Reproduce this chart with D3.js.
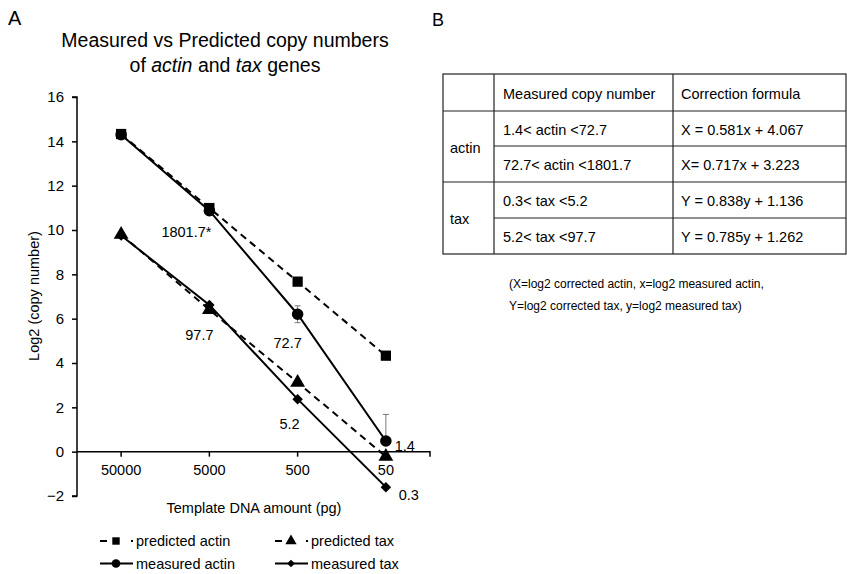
<!DOCTYPE html>
<html><head><meta charset="utf-8">
<script src="https://cdn.jsdelivr.net/npm/d3@7"></script>
<style>body{margin:0;background:#fff}svg{font-family:"Liberation Sans",Arial,sans-serif}</style>
</head><body><svg id="c" width="847" height="574"></svg>
<script>
const categories = ["50000","5000","500","50"];
const predictedActin = [14.33, 10.99, 7.67, 4.33];
const measuredActin  = [14.30, 10.87, 6.20, 0.48];
const measuredActinErr = [0, 0, 0.38, 1.2];
const predictedTax   = [9.80, 6.40, 3.12, -0.22];
const measuredTax    = [9.75, 6.62, 2.37, -1.60];
const yTicks = [-2,0,2,4,6,8,10,12,14,16];
const pointLabels = ["1801.7*","97.7","72.7","5.2","1.4","0.3"];
const tableHeader = ["", "Measured copy number", "Correction formula"];
const tableGenes = ["actin","tax"];
const tableRanges = ["1.4< actin <72.7","72.7< actin <1801.7","0.3< tax <5.2","5.2< tax <97.7"];
const tableFormulas = ["X = 0.581x + 4.067","X= 0.717x + 3.223","Y = 0.838y + 1.136","Y = 0.785y + 1.262"];
const footnote = ["(X=log2 corrected actin, x=log2 measured actin,","Y=log2 corrected tax, y=log2 measured tax)"];

const svg = d3.select("#c");
const x = d3.scaleBand().domain(categories).range([77,430]);
const cx = c => x(c) + x.bandwidth()/2;
const y = d3.scaleLinear().domain([-2,16]).range([496,97]);

// panel letters & title
svg.append("text").attr("x",8).attr("y",25).attr("font-size",20).text("A");
svg.append("text").attr("x",432).attr("y",26).attr("font-size",18).text("B");
const t1 = svg.append("text").attr("x",225).attr("y",47).attr("text-anchor","middle").attr("font-size",19.5);
t1.text("Measured vs Predicted copy numbers");
const t2 = svg.append("text").attr("x",225).attr("y",72).attr("text-anchor","middle").attr("font-size",19.5);
t2.append("tspan").text("of ");
t2.append("tspan").attr("font-style","italic").text("actin");
t2.append("tspan").text(" and ");
t2.append("tspan").attr("font-style","italic").text("tax");
t2.append("tspan").text(" genes");

// axes
const yAxis = d3.axisLeft(y).tickValues(yTicks).tickSize(5).tickPadding(8);
const gy = svg.append("g").attr("transform","translate(77,0)").call(yAxis);
gy.select(".domain").attr("d","M-5,"+y(16)+"H0V"+y(-2)+"H-5").attr("stroke","#000").attr("stroke-width",1.5);
gy.selectAll(".tick line").attr("stroke-width",1.5);
gy.selectAll("text").attr("font-size",15).attr("font-family","Liberation Sans, Arial, sans-serif").attr("fill","#000");

const xAxis = d3.axisBottom(x).tickSize(5).tickPadding(8);
const gx = svg.append("g").attr("transform","translate(0,"+y(0)+")").call(xAxis);
gx.select(".domain").attr("d","M77,0H430V5").attr("stroke","#000").attr("stroke-width",1.5);
gx.selectAll(".tick line").attr("stroke-width",1.5);
gx.selectAll("text").attr("font-size",14.5).attr("font-family","Liberation Sans, Arial, sans-serif").attr("fill","#000");

svg.append("text").attr("x",254).attr("y",513).attr("text-anchor","middle").attr("font-size",14.5).text("Template DNA amount (pg)");
svg.append("text").attr("transform","translate(39,296) rotate(-90)").attr("text-anchor","middle").attr("font-size",14.5).text("Log2 (copy number)");

// lines
const line = d3.line().x((d,i)=>cx(categories[i])).y(d=>y(d));
function drawLine(data, dashed){
  svg.append("path").datum(data).attr("d",line).attr("fill","none").attr("stroke","#000")
    .attr("stroke-width",2).attr("stroke-dasharray", dashed ? "7,5" : null);
}
drawLine(predictedActin,true);
drawLine(predictedTax,true);
drawLine(measuredActin,false);
drawLine(measuredTax,false);

// error bars
measuredActin.forEach((v,i)=>{
  const e = measuredActinErr[i]; if(!e) return;
  const px = cx(categories[i]);
  const lo = i===3 ? v : v-e;
  svg.append("line").attr("x1",px).attr("x2",px).attr("y1",y(v+e)).attr("y2",y(lo)).attr("stroke","#777").attr("stroke-width",1);
  svg.append("line").attr("x1",px-3).attr("x2",px+3).attr("y1",y(v+e)).attr("y2",y(v+e)).attr("stroke","#777").attr("stroke-width",1);
  if(i!==3) svg.append("line").attr("x1",px-3).attr("x2",px+3).attr("y1",y(lo)).attr("y2",y(lo)).attr("stroke","#777").attr("stroke-width",1);
});

// markers
const sym = {
  square: d3.symbol().type(d3.symbolSquare).size(105),
  circle: d3.symbol().type(d3.symbolCircle).size(105),
  triangle: d3.symbol().type(d3.symbolTriangle).size(95),
  diamond: d3.symbol().type(d3.symbolSquare).size(55)
};
function drawMarkers(data, s, rot){
  svg.append("g").selectAll("path").data(data).join("path")
    .attr("d", sym[s]())
    .attr("transform",(d,i)=>"translate("+cx(categories[i])+","+y(d)+")"+(rot?" rotate(45)":""))
    .attr("fill","#000");
}
drawMarkers(predictedActin,"square");
drawMarkers(predictedTax,"triangle");
drawMarkers(measuredActin,"circle");
drawMarkers(measuredTax,"diamond",true);

// point labels (anchored to data points)
const labelAnchors = [
  {series: measuredActin, i:1, dx:-23, dy:26},
  {series: measuredTax,   i:1, dx:-10, dy:35},
  {series: measuredActin, i:2, dx:-10, dy:34},
  {series: measuredTax,   i:2, dx:-8,  dy:30},
  {series: measuredActin, i:3, dx:19,  dy:10},
  {series: measuredTax,   i:3, dx:23,  dy:13}
];
labelAnchors.forEach((a,k)=>{
  svg.append("text").attr("x",cx(categories[a.i])+a.dx).attr("y",y(a.series[a.i])+a.dy)
    .attr("text-anchor","middle").attr("font-size",14.5).text(pointLabels[k]);
});

// legend
const legendItems = [
  {name:"predicted actin", s:"square", dashed:true, col:0, row:0},
  {name:"predicted tax", s:"triangle", dashed:true, col:1, row:0},
  {name:"measured actin", s:"circle", dashed:false, col:0, row:1},
  {name:"measured tax", s:"diamond", dashed:false, col:1, row:1}
];
const legSym = {
  square: d3.symbol().type(d3.symbolSquare).size(55),
  circle: d3.symbol().type(d3.symbolCircle).size(60),
  triangle: d3.symbol().type(d3.symbolTriangle).size(55),
  diamond: d3.symbol().type(d3.symbolSquare).size(30)
};
legendItems.forEach(it=>{
  const lx = it.col ? 275 : 100, ly = it.row ? 563.5 : 541;
  const g = svg.append("g").attr("transform","translate("+lx+","+ly+")");
  g.append("line").attr("x1",0).attr("x2",33).attr("y1",0).attr("y2",0).attr("stroke","#000").attr("stroke-width",2)
    .attr("stroke-dasharray", it.dashed ? "7,24,2" : null);
  g.append("path").attr("d",legSym[it.s]()).attr("transform","translate(16,0)"+(it.s==="diamond"?" rotate(45)":"")).attr("fill","#000");
  g.append("text").attr("x",36).attr("y",5).attr("font-size",14.5).text(it.name);
});

// table
const colX = [443,494,673,846];
const rowY = [74,111,146,182,218,254];
const tg = svg.append("g").attr("stroke","#222").attr("stroke-width",1.2);
tg.append("rect").attr("x",colX[0]).attr("y",rowY[0]).attr("width",colX[3]-colX[0]).attr("height",rowY[5]-rowY[0]).attr("fill","none");
colX.slice(1,3).forEach(cxv=>tg.append("line").attr("x1",cxv).attr("x2",cxv).attr("y1",rowY[0]).attr("y2",rowY[5]));
[rowY[1],rowY[3]].forEach(ry=>tg.append("line").attr("x1",colX[0]).attr("x2",colX[3]).attr("y1",ry).attr("y2",ry));
[rowY[2],rowY[4]].forEach(ry=>tg.append("line").attr("x1",colX[1]).attr("x2",colX[3]).attr("y1",ry).attr("y2",ry));
const txt = (tx,ty,s,fs)=>svg.append("text").attr("x",tx).attr("y",ty).attr("dominant-baseline","central").attr("font-size",fs||14.5).text(s);
txt(colX[1]+9,(rowY[0]+rowY[1])/2+1,tableHeader[1]);
txt(colX[2]+8,(rowY[0]+rowY[1])/2+1,tableHeader[2]);
txt(colX[0]+7,(rowY[1]+rowY[3])/2+1,tableGenes[0]);
txt(colX[0]+7,(rowY[3]+rowY[5])/2+1,tableGenes[1]);
tableRanges.forEach((r,i)=>{
  const my = (rowY[i+1]+rowY[i+2])/2+1;
  txt(colX[1]+9,my,r);
  txt(colX[2]+8,my,tableFormulas[i]);
});
footnote.forEach((f,i)=>txt(509,284+i*21.5,f,12));
</script></body></html>
